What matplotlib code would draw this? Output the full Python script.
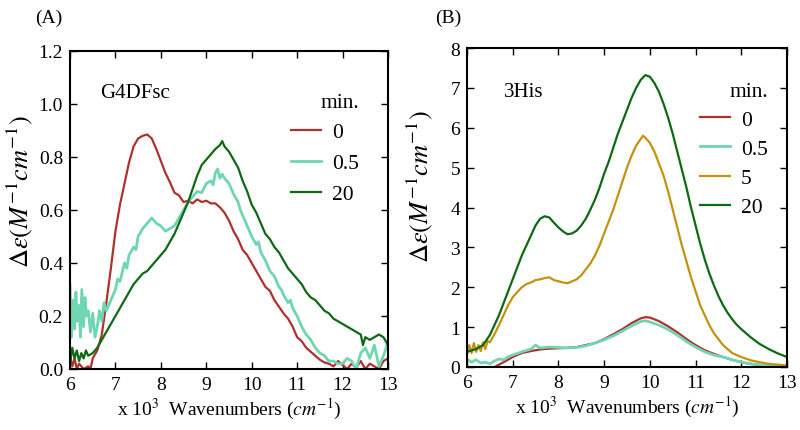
import numpy as np
import matplotlib
matplotlib.use('Agg')
import matplotlib.pyplot as plt

plt.rcParams['font.family'] = ['Liberation Serif', 'DejaVu Serif']
plt.rcParams['mathtext.fontset'] = 'stix'

red = '#b0302c'
teal = '#6fd6b2'
gold = '#c4920e'
green = '#0e6a12'

##panel A, G4DFsc
a_x_0 = [6.0, 6.05, 6.1, 6.15, 6.2, 6.3, 6.4, 6.45, 6.5, 6.6, 6.7, 6.8, 6.9, 7.0, 7.1, 7.2, 7.3,
         7.4, 7.5, 7.6, 7.7, 7.8, 7.9, 8.0, 8.1, 8.2, 8.3, 8.4, 8.5, 8.6, 8.7, 8.8, 8.9, 9.0,
         9.1, 9.2, 9.3, 9.4, 9.5, 9.6, 9.7, 9.8, 9.9, 10.0, 10.1, 10.2, 10.3, 10.4, 10.5, 10.6,
         10.7, 10.8, 10.9, 11.0, 11.1, 11.2, 11.3, 11.4, 11.5, 11.6, 11.7, 11.8, 11.9, 12.0,
         12.1, 12.2, 12.3, 12.4, 12.5, 12.6, 12.7, 12.8, 12.9, 13.0]
a_y_0 = [0.05, 0.01, 0.04, 0.0, 0.02, 0.0, 0.01, 0.0, 0.04, 0.07, 0.13, 0.25, 0.38, 0.52, 0.62,
         0.7, 0.78, 0.84, 0.87, 0.88, 0.885, 0.87, 0.83, 0.785, 0.74, 0.705, 0.665, 0.655, 0.63,
         0.635, 0.625, 0.64, 0.63, 0.635, 0.625, 0.625, 0.61, 0.59, 0.56, 0.52, 0.49, 0.45,
         0.43, 0.4, 0.37, 0.34, 0.31, 0.295, 0.26, 0.235, 0.21, 0.19, 0.16, 0.12, 0.105, 0.08,
         0.065, 0.05, 0.035, 0.025, 0.02, 0.01, 0.03, 0.015, 0.0, 0.02, 0.005, 0.03, 0.0, 0.02,
         0.01, 0.0, 0.03, 0.04]

a_x_05 = [6.0, 6.03, 6.06, 6.1, 6.13, 6.16, 6.2, 6.23, 6.26, 6.3, 6.33, 6.36, 6.4, 6.45, 6.5,
          6.55, 6.6, 6.65, 6.7, 6.75, 6.8, 6.9, 7.0, 7.05, 7.1, 7.2, 7.25, 7.3, 7.4, 7.45, 7.5,
          7.6, 7.7, 7.8, 7.9, 8.0, 8.1, 8.2, 8.3, 8.4, 8.5, 8.6, 8.7, 8.8, 8.9, 9.0, 9.1, 9.15,
          9.2, 9.25, 9.3, 9.35, 9.4, 9.5, 9.55, 9.6, 9.7, 9.75, 9.8, 9.9, 10.0, 10.1, 10.15,
          10.2, 10.3, 10.4, 10.5, 10.6, 10.65, 10.7, 10.8, 10.85, 10.9, 11.0, 11.1, 11.2, 11.3,
          11.4, 11.5, 11.6, 11.7, 11.8, 11.9, 12.0, 12.1, 12.2, 12.3, 12.4, 12.5, 12.6, 12.7,
          12.8, 12.9, 13.0]
a_y_05 = [0.32, 0.12, 0.26, 0.15, 0.29, 0.18, 0.24, 0.12, 0.3, 0.16, 0.27, 0.2, 0.22, 0.14, 0.21,
          0.12, 0.16, 0.22, 0.18, 0.25, 0.22, 0.26, 0.3, 0.34, 0.33, 0.4, 0.38, 0.43, 0.46, 0.45,
          0.5, 0.53, 0.55, 0.57, 0.55, 0.54, 0.52, 0.53, 0.54, 0.57, 0.6, 0.63, 0.65, 0.67,
          0.665, 0.7, 0.71, 0.695, 0.74, 0.755, 0.72, 0.735, 0.72, 0.7, 0.68, 0.66, 0.63, 0.6,
          0.58, 0.54, 0.5, 0.47, 0.48, 0.44, 0.41, 0.37, 0.35, 0.31, 0.3, 0.28, 0.25, 0.26,
          0.23, 0.2, 0.16, 0.13, 0.11, 0.08, 0.06, 0.05, 0.03, 0.03, 0.02, 0.02, 0.04, 0.03,
          0.0, 0.06, 0.08, 0.04, 0.09, 0.01, 0.05, 0.1]

a_x_20 = [6.0, 6.05, 6.1, 6.15, 6.2, 6.25, 6.3, 6.35, 6.4, 6.5, 6.6, 6.7, 6.8, 6.9, 7.0, 7.1,
          7.2, 7.3, 7.4, 7.5, 7.6, 7.7, 7.8, 7.9, 8.0, 8.1, 8.2, 8.3, 8.4, 8.5, 8.6, 8.7, 8.8,
          8.9, 9.0, 9.1, 9.2, 9.3, 9.35, 9.4, 9.5, 9.6, 9.7, 9.8, 9.9, 10.0, 10.1, 10.2, 10.3,
          10.4, 10.5, 10.6, 10.7, 10.8, 10.9, 11.0, 11.1, 11.2, 11.3, 11.4, 11.5, 11.6, 11.7,
          11.8, 11.9, 12.0, 12.1, 12.2, 12.3, 12.4, 12.45, 12.5, 12.6, 12.7, 12.8, 12.9, 13.0]
a_y_20 = [0.02, 0.08, 0.04, 0.07, 0.03, 0.06, 0.04, 0.07, 0.05, 0.06, 0.08, 0.11, 0.14, 0.17,
          0.2, 0.23, 0.26, 0.29, 0.32, 0.34, 0.36, 0.37, 0.39, 0.41, 0.43, 0.45, 0.48, 0.51,
          0.55, 0.59, 0.63, 0.68, 0.73, 0.77, 0.79, 0.81, 0.83, 0.845, 0.86, 0.84, 0.82, 0.79,
          0.76, 0.71, 0.67, 0.62, 0.59, 0.55, 0.51, 0.49, 0.46, 0.44, 0.41, 0.38, 0.36, 0.34,
          0.32, 0.29, 0.27, 0.26, 0.24, 0.22, 0.21, 0.19, 0.18, 0.17, 0.16, 0.15, 0.14, 0.13,
          0.09, 0.12, 0.11, 0.12, 0.13, 0.12, 0.09]

##panel B, 3His
b_x_0 = [6.6, 6.8, 7.0, 7.2, 7.4, 7.6, 7.8, 8.0, 8.2, 8.4, 8.6, 8.8, 9.0, 9.2, 9.4, 9.6, 9.8,
         9.9, 10.0, 10.2, 10.4, 10.6, 10.8, 11.0, 11.2, 11.4, 11.6, 11.8, 12.0, 12.2, 12.4,
         12.6, 12.8, 13.0]
b_y_0 = [0.0, 0.12, 0.25, 0.35, 0.4, 0.44, 0.46, 0.47, 0.48, 0.5, 0.55, 0.6, 0.7, 0.82, 0.95,
         1.1, 1.22, 1.25, 1.24, 1.15, 1.02, 0.87, 0.7, 0.55, 0.42, 0.33, 0.25, 0.18, 0.12,
         0.08, 0.05, 0.03, 0.02, 0.02]

b_x_05 = [6.0, 6.1, 6.2, 6.3, 6.4, 6.5, 6.6, 6.7, 6.8, 6.9, 7.0, 7.2, 7.4, 7.5, 7.6, 7.8, 8.0,
          8.2, 8.4, 8.6, 8.8, 9.0, 9.2, 9.4, 9.6, 9.8, 9.9, 10.0, 10.2, 10.4, 10.6, 10.8, 11.0,
          11.2, 11.4, 11.6, 11.8, 12.0, 12.2, 12.4, 12.6, 12.8, 13.0]
b_y_05 = [0.2, 0.12, 0.18, 0.1, 0.12, 0.08, 0.15, 0.2, 0.18, 0.26, 0.3, 0.38, 0.45, 0.55, 0.48,
          0.5, 0.49, 0.48, 0.49, 0.53, 0.6, 0.68, 0.78, 0.9, 1.03, 1.14, 1.16, 1.13, 1.05, 0.94,
          0.8, 0.64, 0.5, 0.38, 0.3, 0.25, 0.18, 0.12, 0.08, 0.05, 0.04, 0.02, 0.01]

b_x_5 = [6.0, 6.05, 6.1, 6.15, 6.2, 6.25, 6.3, 6.35, 6.4, 6.45, 6.5, 6.6, 6.7, 6.8, 6.9, 7.0,
         7.1, 7.2, 7.3, 7.4, 7.5, 7.6, 7.7, 7.8, 7.9, 8.0, 8.1, 8.2, 8.3, 8.4, 8.5, 8.6, 8.7,
         8.8, 8.9, 9.0, 9.1, 9.2, 9.3, 9.4, 9.5, 9.6, 9.7, 9.8, 9.85, 9.9, 10.0, 10.1, 10.2,
         10.3, 10.4, 10.5, 10.6, 10.7, 10.8, 10.9, 11.0, 11.1, 11.2, 11.3, 11.4, 11.5, 11.6,
         11.7, 11.8, 11.9, 12.0, 12.2, 12.4, 12.6, 12.8, 13.0]
b_y_5 = [0.3, 0.55, 0.35, 0.6, 0.38, 0.55, 0.4, 0.62, 0.45, 0.65, 0.62, 0.82, 1.05, 1.3, 1.55,
         1.75, 1.88, 2.0, 2.08, 2.12, 2.18, 2.2, 2.23, 2.25, 2.18, 2.15, 2.12, 2.1, 2.15, 2.2,
         2.3, 2.45, 2.6, 2.8, 3.05, 3.35, 3.65, 3.95, 4.3, 4.65, 5.0, 5.3, 5.55, 5.72, 5.8,
         5.75, 5.62, 5.4, 5.1, 4.8, 4.4, 3.95, 3.5, 3.05, 2.65, 2.25, 1.9, 1.55, 1.3, 1.05,
         0.85, 0.7, 0.55, 0.45, 0.35, 0.3, 0.25, 0.17, 0.12, 0.08, 0.06, 0.04]

b_x_20 = [6.0, 6.2, 6.35, 6.5, 6.6, 6.7, 6.8, 6.9, 7.0, 7.1, 7.2, 7.3, 7.4, 7.5, 7.6, 7.7, 7.8,
          7.9, 8.0, 8.1, 8.2, 8.3, 8.4, 8.5, 8.6, 8.7, 8.8, 8.9, 9.0, 9.1, 9.2, 9.3, 9.4, 9.5,
          9.6, 9.7, 9.8, 9.9, 10.0, 10.1, 10.2, 10.3, 10.4, 10.5, 10.6, 10.7, 10.8, 10.9, 11.0,
          11.1, 11.2, 11.3, 11.4, 11.5, 11.6, 11.7, 11.8, 11.9, 12.0, 12.2, 12.4, 12.6, 12.8, 13.0]
b_y_20 = [0.38, 0.45, 0.55, 0.8, 1.05, 1.3, 1.6, 1.9, 2.2, 2.5, 2.8, 3.05, 3.3, 3.55, 3.72,
          3.78, 3.75, 3.62, 3.5, 3.4, 3.33, 3.35, 3.42, 3.55, 3.72, 3.95, 4.2, 4.5, 4.85, 5.15,
          5.5, 5.85, 6.15, 6.45, 6.75, 7.0, 7.2, 7.32, 7.28, 7.12, 6.9, 6.6, 6.25, 5.85, 5.4,
          4.95, 4.5, 4.0, 3.55, 3.1, 2.7, 2.35, 2.05, 1.78, 1.55, 1.36, 1.2, 1.06, 0.95, 0.75,
          0.58, 0.45, 0.34, 0.25]


def style_axes(ax):
    ax.tick_params(direction='in', top=True, right=True, length=5, width=1, labelsize=14, pad=5)
    for s in ax.spines.values():
        s.set_linewidth(1.5)
    ax.set_xlim(6, 13)
    ax.set_xticks(range(6, 14))
    ax.set_xlabel(r'x 10$^3$  Wavenumbers ($cm^{-1}$)', fontsize=14, labelpad=2)
    ax.set_ylabel(r'$\Delta\epsilon(M^{-1}cm^{-1})$', fontsize=19)


fig = plt.figure(figsize=(8.0, 4.31), dpi=100)
axA = fig.add_axes([70/800, 1-370/431, 318/800, 318/431])
axB = fig.add_axes([467/800, 1-368/431, 320/800, 319/431])

lw = 1.6
legkw = dict(title='min.', loc='upper right', frameon=False, fontsize=15.5, title_fontsize=15.5,
             handlelength=1.4, handletextpad=0.5, alignment='right')

axA.plot(a_x_0, a_y_0, color=red, lw=lw, label='0')
axA.plot(a_x_05, a_y_05, color=teal, lw=lw + 0.4, label='0.5')
axA.plot(a_x_20, a_y_20, color=green, lw=lw, label='20')
style_axes(axA)
axA.set_ylim(0, 1.2)
axA.set_yticks(np.arange(0, 1.21, 0.2))
axA.set_yticklabels(['0.0', '0.2', '0.4', '0.6', '0.8', '1.0', '1.2'])
axA.yaxis.set_label_coords(-0.11, 0.56)
axA.text(6.67, 1.045, 'G4DFsc', fontsize=15, va='center', ha='left')
axA.legend(bbox_to_anchor=(0.97, 0.93), labelspacing=0.5, **legkw)

axB.plot(b_x_0, b_y_0, color=red, lw=lw, label='0')
axB.plot(b_x_05, b_y_05, color=teal, lw=lw + 0.4, label='0.5')
axB.plot(b_x_5, b_y_5, color=gold, lw=lw, label='5')
axB.plot(b_x_20, b_y_20, color=green, lw=lw, label='20')
style_axes(axB)
axB.set_ylim(0, 8)
axB.set_yticks(range(0, 9))
axB.yaxis.set_label_coords(-0.1, 0.567)
axB.text(6.8, 6.9, '3His', fontsize=15, va='center', ha='left')
axB.legend(bbox_to_anchor=(1.0, 0.955), labelspacing=0.42, **legkw)

fig.text(35/800, 1-18/431, '(A)', fontsize=14, ha='left', va='center')
fig.text(435/800, 1-18/431, '(B)', fontsize=14, ha='left', va='center')

fig.savefig('out.png', dpi=100)
